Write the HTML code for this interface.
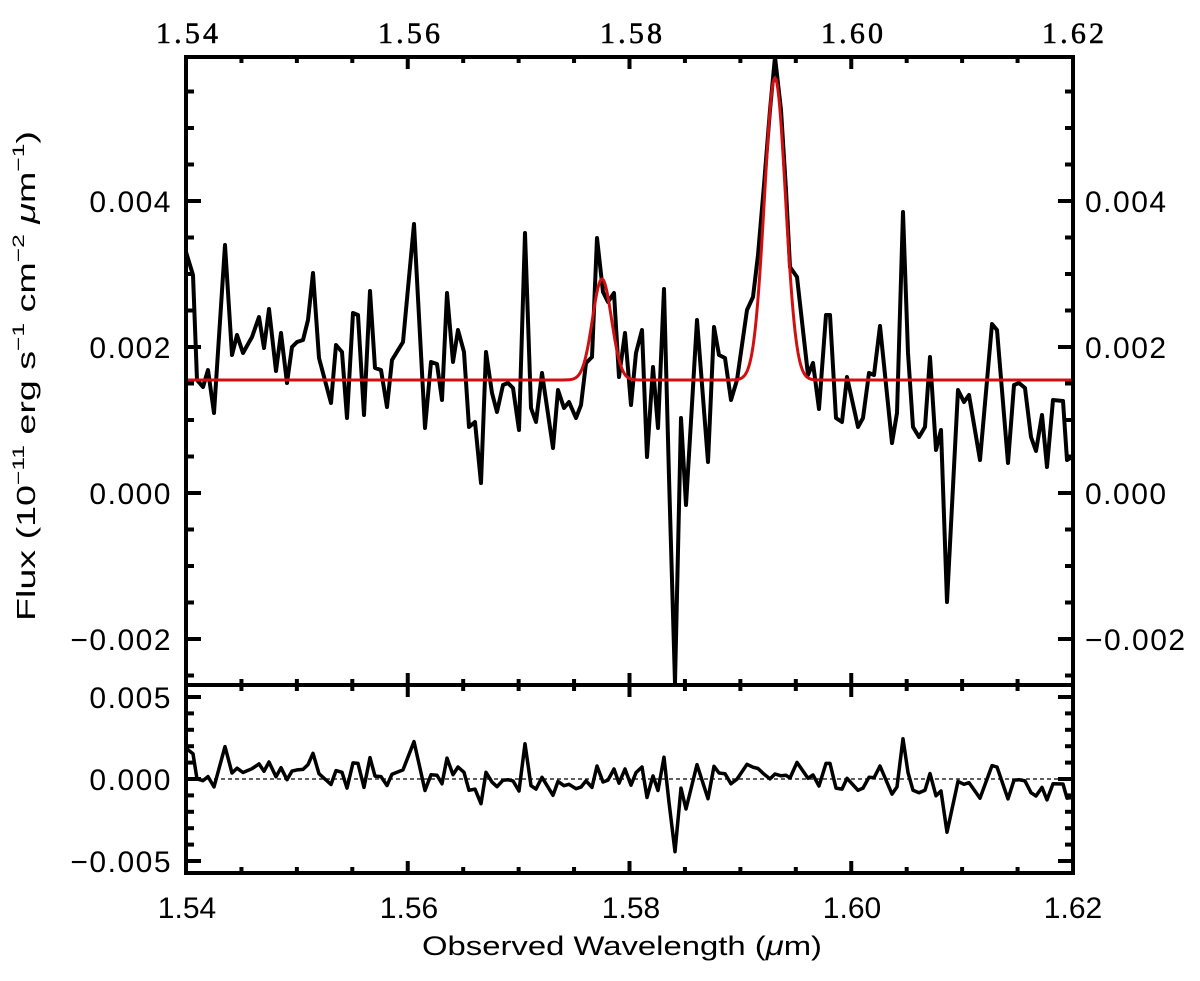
<!DOCTYPE html>
<html><head><meta charset="utf-8"><style>
html,body{margin:0;padding:0;background:#fff;}
svg{display:block;font-family:"Liberation Sans","DejaVu Sans",sans-serif;}
</style></head><body>
<svg id="s" width="1200" height="981" viewBox="0 0 1200 981" xmlns="http://www.w3.org/2000/svg">
<rect width="1200" height="981" fill="#fff"/>
<g id="ticks" stroke="#000" stroke-width="4"></g>
<line x1="186" y1="779" x2="1073" y2="779" stroke="#000" stroke-width="1.2" stroke-dasharray="4,3"/>
<polyline id="data" fill="none" stroke="#000" stroke-width="4" stroke-linejoin="round"/>
<polyline id="model" fill="none" stroke="#d01010" stroke-width="3"/>
<polyline id="resid" fill="none" stroke="#000" stroke-width="3.5" stroke-linejoin="round"/>
<rect x="186" y="57" width="887" height="816" fill="none" stroke="#000" stroke-width="4"/>
<line x1="186" y1="685" x2="1073" y2="685" stroke="#000" stroke-width="4"/>
<g font-size="30" fill="#000" font-family="Liberation Serif, serif" stroke="#000" stroke-width="0.6">
<text x="187" y="43" text-anchor="middle" textLength="62">1.54</text>
<text x="409" y="43" text-anchor="middle" textLength="62">1.56</text>
<text x="631" y="43" text-anchor="middle" textLength="62">1.58</text>
<text x="852" y="43" text-anchor="middle" textLength="62">1.60</text>
<text x="1073" y="43" text-anchor="middle" textLength="62">1.62</text>
</g>
<g font-size="30" fill="#000">
<text x="187" y="918" text-anchor="middle">1.54</text>
<text x="409" y="918" text-anchor="middle">1.56</text>
<text x="631" y="918" text-anchor="middle">1.58</text>
<text x="852" y="918" text-anchor="middle">1.60</text>
<text x="1073" y="918" text-anchor="middle">1.62</text>
<text x="172" y="212" text-anchor="end" letter-spacing="1.5">0.004</text>
<text x="172" y="358" text-anchor="end" letter-spacing="1.5">0.002</text>
<text x="172" y="504" text-anchor="end" letter-spacing="1.5">0.000</text>
<text x="172" y="650" text-anchor="end" letter-spacing="1.5">−0.002</text>
<text x="1085" y="212" letter-spacing="1.5">0.004</text>
<text x="1085" y="358" letter-spacing="1.5">0.002</text>
<text x="1085" y="504" letter-spacing="1.5">0.000</text>
<text x="1085" y="650" letter-spacing="1.5">−0.002</text>
<text x="172" y="708" text-anchor="end" letter-spacing="1.5">0.005</text>
<text x="172" y="790" text-anchor="end" letter-spacing="1.5">0.000</text>
<text x="172" y="872" text-anchor="end" letter-spacing="1.5">−0.005</text>
</g>
<g fill="#000">
<text x="622" y="955" text-anchor="middle" font-size="27" textLength="400" lengthAdjust="spacingAndGlyphs">Observed Wavelength (<tspan font-style="italic">μ</tspan>m)</text>
<text transform="translate(35,376) rotate(-90)" text-anchor="middle" font-size="26" textLength="490" lengthAdjust="spacingAndGlyphs">Flux (10<tspan font-size="17" dy="-11">−11</tspan><tspan dy="11"> erg s</tspan><tspan font-size="17" dy="-11">−1</tspan><tspan dy="11"> cm</tspan><tspan font-size="17" dy="-11">−2</tspan><tspan dy="11">  </tspan><tspan font-style="italic">μ</tspan>m<tspan font-size="17" dy="-11">−1</tspan><tspan dy="11">)</tspan></text>
</g>
</svg>
<script>
var pts=[[186,252],[193,275],[197,380],[203,387],[208,370],[214,413],[225,245],[232,355],[237,335],[243,353],[252,337],[259,317],[264,348],[269,309],[276,371],[281,333],[287,383],[292,347],[297,342],[303,340],[308,320],[313,273],[319,358],[331,403],[336,345],[342,352],[347,418],[353,313],[358,315],[364,415],[370,291],[375,368],[381,370],[387,407],[392,360],[403,342],[414,224],[425,428],[431,362],[437,364],[442,400],[447,293],[453,362],[458,330],[464,352],[469,427],[475,422],[481,483],[486,352],[492,393],[497,412],[503,385],[508,383],[513,388],[519,430],[525,233],[531,408],[536,422],[542,373],[553,448],[558,390],[564,408],[569,402],[576,418],[581,405],[586,363],[592,357],[597,238],[603,292],[608,302],[614,293],[619,377],[625,333],[631,405],[636,353],[642,330],[647,457],[653,367],[658,428],[664,289],[669,477],[675,683],[681,418],[686,505],[697,320],[708,462],[714,327],[719,355],[725,358],[731,400],[737,380],[747,310],[753,297],[758,255],[764,185],[770,110],[775,57],[781,110],[786,190],[790,267],[797,277],[808,375],[813,363],[819,409],[826,315],[830,315],[836,418],[842,422],[847,377],[858,427],[863,418],[869,373],[874,375],[880,326],[892,443],[897,413],[903,212],[908,353],[913,427],[919,437],[925,427],[930,357],[936,450],[941,430],[947,602],[958,390],[964,402],[969,395],[980,460],[992,324],[997,330],[1008,463],[1014,385],[1019,383],[1025,388],[1031,437],[1036,451],[1042,415],[1047,467],[1053,400],[1063,401],[1067,460],[1072,457]];
function model(x){return 380-101*Math.exp(-Math.pow((x-602)/9.5,2)/2)-302*Math.exp(-Math.pow((x-775)/10.5,2)/2);}
document.getElementById('data').setAttribute('points',pts.map(p=>p.join(',')).join(' '));
var m=[];for(var x=186;x<=1073;x+=1)m.push(x+','+model(x).toFixed(1));
document.getElementById('model').setAttribute('points',m.join(' '));
document.getElementById('resid').setAttribute('points',pts.map(p=>p[0]+','+(779+(p[1]-model(p[0]))*0.24).toFixed(1)).join(' '));
var g=document.getElementById('ticks'),h='';
function L(a,b,c,d){h+='<line x1="'+a+'" y1="'+b+'" x2="'+c+'" y2="'+d+'"/>';}
for(var i=0;i<=16;i++){var x=186+i*887/16,len=(i%4==0)?12:6;L(x,57,x,57+len);L(x,685,x,685-len);L(x,685,x,685+len);L(x,873,x,873-len);}
for(var v=-5;v<=13;v++){var y=493-v*36.5;if(y<60||y>683)continue;var len=(v%4==0)?15:8;L(186,y,186+len,y);L(1073,y,1073-len,y);}
for(var v=-6;v<=6;v++){var y=779-v*16.4;if(y<687||y>871)continue;var len=(v%5==0)?15:8;L(186,y,186+len,y);L(1073,y,1073-len,y);}
g.innerHTML=h;
</script>
</body></html>
